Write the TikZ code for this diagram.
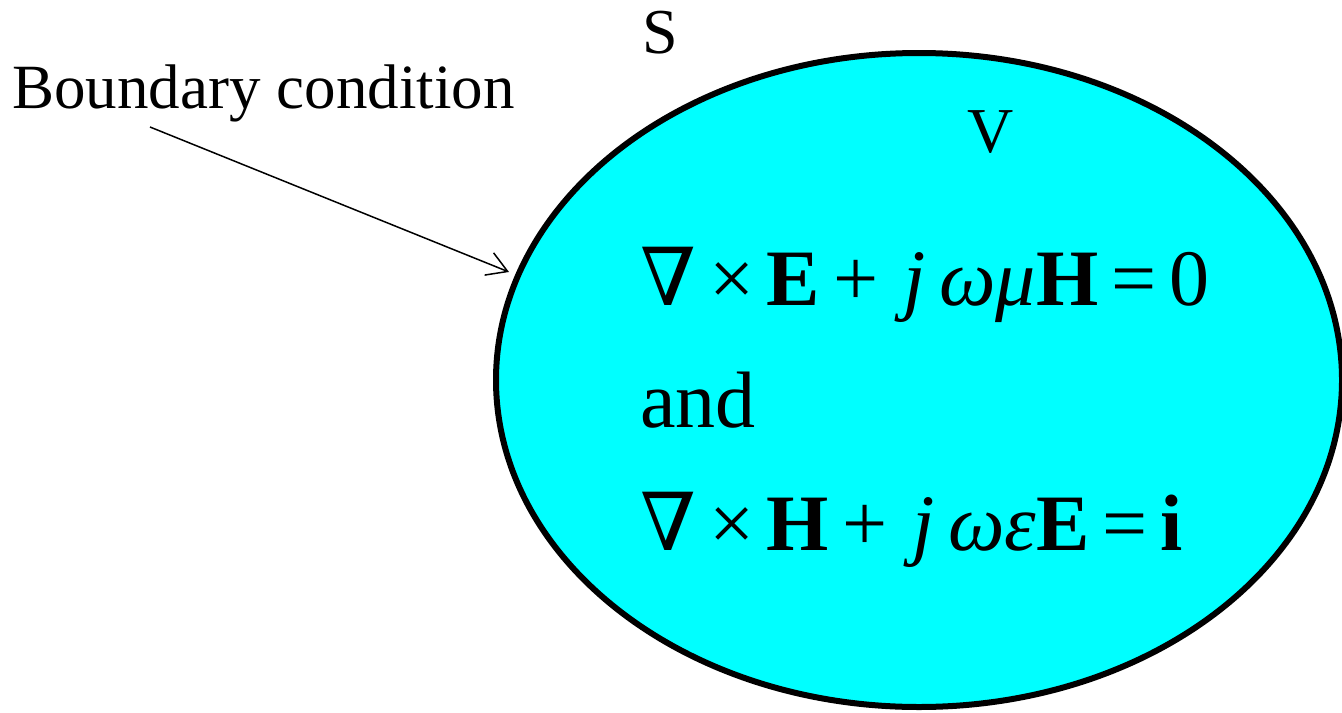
\documentclass[tikz,border=0pt]{standalone}
\usepackage{fontspec}
\setmainfont{Liberation Serif}
\newfontfamily\simbolos{DejaVu Serif}
\usetikzlibrary{arrows.meta}
\definecolor{volumen}{HTML}{00FFFF}
\newcommand{\vect}[1]{\textbf{#1}}
\newcommand{\esc}[1]{\textit{#1}}
\newcommand{\nab}{{\simbolos ∇}}
\newcommand{\hs}{\hspace{0.16em}}
\tikzset{
  region/.style={draw=black,fill=volumen,line width=3pt},
  etiqueta/.style={anchor=base west,inner sep=0pt,font=\fontsize{32}{36}\selectfont},
  ecuacion/.style={anchor=base west,inner sep=0pt,font=\fontsize{40}{48}\selectfont},
  flecha/.style={line width=0.75pt,-{Straight Barb[length=10pt,width=12pt,line width=0.75pt]}},
}
\begin{document}
\begin{tikzpicture}[x=0.5pt,y=-0.5pt]
\useasboundingbox (0,0) rectangle (1342,712);
% volume V bounded by surface S
\draw[region] (919,380) coordinate (centro) ellipse [x radius=423, y radius=327];
\node[etiqueta] (s) at (642,53) {S};
\node[etiqueta] (v) at (967,152) {V};
\node[etiqueta,font=\fontsize{31.5}{36}\selectfont] (bc) at (12,108) {Boundary condition};
\node[ecuacion] (eq1) at (640,305) {\nab\hs×\hs\vect{E}\hs+\hs\hs\esc{j\,ωμ}\vect{H}\hs=\hs0};
\node[ecuacion] (und) at (640,427) {and};
\node[ecuacion] (eq2) at (640,550) {\nab\hs×\hs\vect{H}\hs+\hs\hs\esc{j\,ωε}\vect{E}\hs=\hs\vect{i}};
\coordinate (desde) at (150,127);
\coordinate (hasta) at (509,272);
\draw[flecha] (desde) -- (hasta);
\end{tikzpicture}
\end{document}
